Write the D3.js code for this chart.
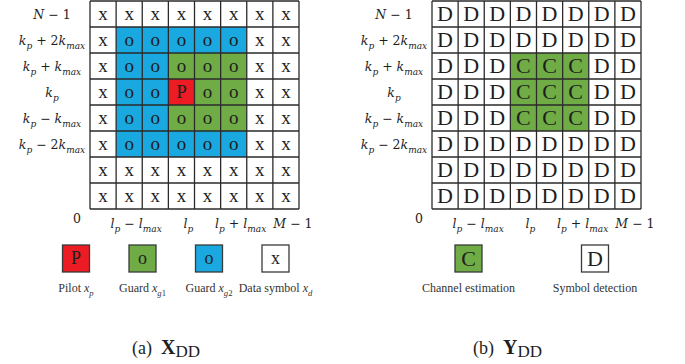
<!DOCTYPE html>
<html><head><meta charset="utf-8">
<script src="https://cdn.jsdelivr.net/npm/d3@7"></script>
<style>body{margin:0;background:#fff}svg{display:block}</style>
</head><body>
<svg id="fig" width="685" height="364"></svg>
<script>
// Delay-Doppler grid contents, top row first (top row = N−1, bottom row = 0).
// p = pilot, g = guard x_g1, b = guard x_g2, x = data symbol
const xGridRows = [
  "xxxxxxxx",
  "xbbbbbxx",
  "xbbgggxx",
  "xbbpggxx",
  "xbbgggxx",
  "xbbbbbxx",
  "xxxxxxxx",
  "xxxxxxxx"
];
// c = channel estimation, d = symbol detection
const yGridRows = [
  "dddddddd",
  "dddddddd",
  "dddcccdd",
  "dddcccdd",
  "dddcccdd",
  "dddddddd",
  "dddddddd",
  "dddddddd"
];
const rowTickLabels = ["N − 1", "k_{p} + 2k_{max}", "k_{p} + k_{max}", "k_{p}", "k_{p} − k_{max}", "k_{p} − 2k_{max}"];
const rowTickIndex = [0, 1, 2, 3, 4, 5];
const colTickLabels = ["l_{p} − l_{max}", "l_{p}", "l_{p} + l_{max}", "M − 1"];
const colTickIndex = [1, 3, 5, 7];
const originLabel = "0";

const xLegendKeys = ["p", "g", "b", "x"];
const xLegendWords = ["Pilot", "Guard", "Guard", "Data symbol"];
const xLegendSymbols = ["x_{p}", "x_{g1}", "x_{g2}", "x_{d}"];
const yLegendKeys = ["c", "d"];
const yLegendWords = ["Channel estimation", "Symbol detection"];

const captionTags = ["(a)", "(b)"];
const captionSymbols = ["X", "Y"];
const captionSubs = ["DD", "DD"];

// Cell appearance per key
const cellFill = { p: "#ED1C24", g: "#6FAC46", b: "#1AA8E0", x: "#ffffff", c: "#6FAC46", d: "#ffffff" };
const cellGlyph = { p: "P", g: "o", b: "o", x: "x", c: "C", d: "D" };

const svg = d3.select("#fig");
const serif = "'Liberation Serif', 'Times New Roman', serif";
const mathFont = "'DejaVu Serif', serif";
const ink = "#1e1e1e";
const gridStroke = "#2a2a2a";

// Writes a label such as "k_{p} + 2k_{max}" as tspans: letters italic, subscripts lowered.
function writeMath(text, str, size, italicLetters = true) {
  const parts = [];
  const re = /_\{([^}]*)\}/g;
  let last = 0, m;
  while ((m = re.exec(str))) {
    if (m.index > last) parts.push({ t: str.slice(last, m.index), sub: false });
    parts.push({ t: m[1], sub: true });
    last = re.lastIndex;
  }
  if (last < str.length) parts.push({ t: str.slice(last), sub: false });
  let shift = 0;
  parts.forEach(p => {
    (p.t.match(/[A-Za-z]+|[^A-Za-z]+/g) || []).forEach(run => {
      const ts = text.append("tspan").text(run)
        .attr("font-style", italicLetters && /[A-Za-z]/.test(run) ? "italic" : "normal")
        .attr("font-size", p.sub ? size * 0.72 : size);
      const want = p.sub ? size * 0.3 : 0;
      if (want !== shift) { ts.attr("dy", want - shift); shift = want; }
    });
  });
}

function drawPanel(left, rows, glyphSize) {
  const n = rows.length, mCols = rows[0].length;
  const x = d3.scaleBand().domain(d3.range(mCols)).range([left, left + 209]);
  const y = d3.scaleBand().domain(d3.range(n)).range([1, 209]);
  const g = svg.append("g");

  const cells = rows.flatMap((r, i) => r.split("").map((k, j) => ({ i, j, k })));
  g.selectAll("rect.cell").data(cells).join("rect")
    .attr("class", "cell")
    .attr("x", d => x(d.j)).attr("y", d => y(d.i))
    .attr("width", x.bandwidth()).attr("height", y.bandwidth())
    .attr("fill", d => cellFill[d.k]);
  // grid lines
  g.selectAll("line.v").data(d3.range(mCols + 1)).join("line")
    .attr("x1", d => left + d * x.bandwidth()).attr("x2", d => left + d * x.bandwidth())
    .attr("y1", 1).attr("y2", 209)
    .attr("stroke", gridStroke).attr("stroke-width", 1.3);
  g.selectAll("line.h").data(d3.range(n + 1)).join("line")
    .attr("y1", d => 1 + d * y.bandwidth()).attr("y2", d => 1 + d * y.bandwidth())
    .attr("x1", left).attr("x2", left + 209)
    .attr("stroke", gridStroke).attr("stroke-width", 1.3);

  g.selectAll("text.glyph").data(cells).join("text")
    .attr("class", "glyph")
    .attr("x", d => x(d.j) + x.bandwidth() / 2)
    .attr("y", d => y(d.i) + y.bandwidth() / 2 + glyphSize * 0.33)
    .attr("text-anchor", "middle")
    .attr("font-family", serif).attr("font-size", glyphSize)
    .attr("fill", ink)
    .text(d => cellGlyph[d.k]);

  // row labels
  rowTickLabels.forEach((lab, i) => {
    const t = g.append("text")
      .attr("x", left - 38)
      .attr("y", y(rowTickIndex[i]) + y.bandwidth() / 2 + 5)
      .attr("text-anchor", "middle")
      .attr("font-family", mathFont).attr("fill", ink);
    writeMath(t, lab, 12.5);
  });
  // column labels
  colTickLabels.forEach((lab, i) => {
    const t = g.append("text")
      .attr("x", x(colTickIndex[i]) + x.bandwidth() / 2 + 7)
      .attr("y", 228)
      .attr("text-anchor", "middle")
      .attr("font-family", mathFont).attr("fill", ink);
    writeMath(t, lab, 12.5);
  });
  g.append("text")
    .attr("x", left - 13).attr("y", 223)
    .attr("text-anchor", "middle")
    .attr("font-family", mathFont).attr("font-size", 12.5).attr("fill", ink)
    .text(originLabel);
}

function drawLegend(keys, words, symbols, range, glyphSize) {
  const pos = d3.scalePoint().domain(keys).range(range);
  const s = 27;
  const g = svg.append("g");
  keys.forEach((k, i) => {
    const cx = pos(k);
    g.append("rect")
      .attr("x", cx - s / 2).attr("y", 245).attr("width", s).attr("height", s)
      .attr("fill", cellFill[k]).attr("stroke", "#3a3a3a").attr("stroke-width", 1.3);
    g.append("text")
      .attr("x", cx).attr("y", 245 + s / 2 + glyphSize * 0.33)
      .attr("text-anchor", "middle")
      .attr("font-family", serif).attr("font-size", glyphSize).attr("fill", ink)
      .text(cellGlyph[k]);
    const t = g.append("text")
      .attr("x", cx).attr("y", 292)
      .attr("text-anchor", "middle")
      .attr("font-family", serif).attr("font-size", 12).attr("fill", "#333");
    t.append("tspan").text(words[i] + (symbols ? " " : ""));
    if (symbols) writeMath(t, symbols[i], 12);
  });
}

drawPanel(90, xGridRows, 19);
drawPanel(432, yGridRows, 22);
drawLegend(xLegendKeys, xLegendWords, xLegendSymbols, [76, 275.5], 18);
drawLegend(yLegendKeys, yLegendWords, null, [468.5, 595], 22);

// panel captions
const capX = [132, 473];
captionTags.forEach((tag, i) => {
  const t = svg.append("text")
    .attr("x", capX[i]).attr("y", 354)
    .attr("font-family", serif).attr("fill", ink).attr("font-size", 18);
  t.append("tspan").text(tag + "\u2002");
  t.append("tspan").text(captionSymbols[i]).attr("font-weight", "bold").attr("font-size", 20);
  t.append("tspan").text(captionSubs[i]).attr("font-size", 17).attr("dy", 3);
});
</script>
</body></html>
